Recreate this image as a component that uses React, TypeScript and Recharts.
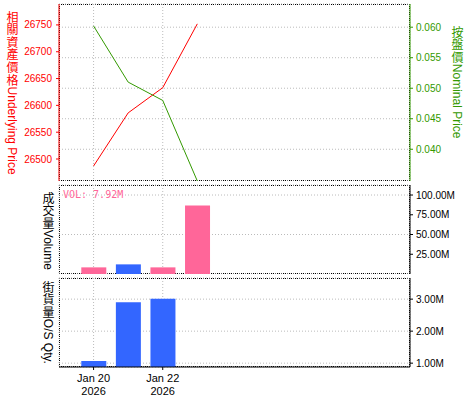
import React from 'react';
import {
  ComposedChart,
  Line,
  Bar,
  Cell,
  XAxis,
  YAxis,
  CartesianGrid,
} from 'recharts';

// trading days (January 2026)
const days = [20, 21, 22, 23];
const underlyingPrice = [26487, 26586, 26633, 26752];
const nominalPrice = [0.0602, 0.051, 0.048, 0.0348];
const volume = [8.4e6, 12.2e6, 8.4e6, 86.6e6];
const volumeUp = [false, true, false, false];
const osQty = [1.07e6, 2.9e6, 3.01e6, null];

const dateTicks = [20, 22];
const underlyingTicks = [26500, 26550, 26600, 26650, 26700, 26750];
const nominalTicks = [0.04, 0.045, 0.05, 0.055, 0.06];
const volumeTicks = [25e6, 50e6, 75e6, 100e6];
const qtyTicks = [1e6, 2e6, 3e6];

const RED = '#ff0000';
const GREEN = '#339900';
const PINK = '#ff6699';
const BLUE = '#3366ff';
const GRID = '#bbbbbb';
const FONT = '"Liberation Sans", Arial, sans-serif';
const CJK = '"Noto Sans CJK TC", sans-serif';

const rows = days.map((d, i) => ({
  day: d,
  underlying: underlyingPrice[i],
  nominal: nominalPrice[i],
  volume: volume[i],
  qty: osQty[i],
}));

const fmtM = (v: number) => `${(v / 1e6).toFixed(2)}M`;

const DateTick = ({ x, y, payload }: any) => (
  <text x={x} y={y} textAnchor="middle" fontSize={11} fontFamily={FONT} fill="#000">
    <tspan x={x} dy={10}>{`Jan ${payload.value}`}</tspan>
    <tspan x={x} dy={13}>2026</tspan>
  </text>
);

const PLOT_L = 59;
const PLOT_R = 410;
const W = 475;
const xDomain: [number, number] = [19, 29.15];

const box = (top: number, h: number): React.CSSProperties => ({
  position: 'absolute',
  left: PLOT_L,
  top,
  width: PLOT_R - PLOT_L,
  height: h,
  border: '1px dotted #000',
  boxSizing: 'border-box',
});

// vertical title: Chinese part upright, English part rotated
const VLabel = ({ left, top, color, zh, en }: any) => (
  <div
    style={{
      position: 'absolute',
      left,
      top,
      width: 14,
      writingMode: 'vertical-rl',
      fontSize: 12,
      lineHeight: '14px',
      color,
      whiteSpace: 'nowrap',
    }}
  >
    <span style={{ fontFamily: CJK, textOrientation: 'upright', letterSpacing: '0.6px' }}>{zh}</span>
    <span style={{ fontFamily: FONT }}>{en}</span>
  </div>
);

export default function App() {
  return (
    <div style={{ position: 'absolute', left: 0, top: 0, width: W, height: 400, background: '#fff' }}>
      {/* panel frames, drawn behind the charts */}
      <div style={box(4, 177)} />
      <div style={box(185, 89)} />
      <div style={box(278, 89)} />

      {/* price panel */}
      <div style={{ position: 'absolute', left: 0, top: 0 }}>
        <ComposedChart width={W} height={181} data={rows} margin={{ top: 4, right: 0, bottom: 0, left: 0 }}>
          <CartesianGrid yAxisId="right" stroke={GRID} strokeDasharray="1 2" />
          <XAxis dataKey="day" type="number" domain={xDomain} ticks={dateTicks} hide />
          <YAxis
            yAxisId="left"
            width={PLOT_L}
            domain={[26459, 26789]}
            ticks={underlyingTicks}
            allowDataOverflow
            stroke={RED}
            tickSize={3}
            tickMargin={4}
            tick={{ fill: RED, fontSize: 10, fontFamily: FONT }}
          />
          <YAxis
            yAxisId="right"
            orientation="right"
            width={W - PLOT_R}
            domain={[0.0348, 0.0638]}
            ticks={nominalTicks}
            allowDataOverflow
            stroke={GREEN}
            tickSize={3}
            tickMargin={3}
            tickFormatter={(v: number) => v.toFixed(3)}
            tick={{ fill: GREEN, fontSize: 10, fontFamily: FONT }}
          />
          <Line yAxisId="left" dataKey="underlying" stroke={RED} strokeWidth={1} dot={false} isAnimationActive={false} />
          <Line yAxisId="right" dataKey="nominal" stroke={GREEN} strokeWidth={1} dot={false} isAnimationActive={false} />
        </ComposedChart>
      </div>

      {/* volume panel */}
      <div style={{ position: 'absolute', left: 0, top: 183 }}>
        <ComposedChart width={W} height={91} data={rows} margin={{ top: 2, right: 0, bottom: 0, left: PLOT_L }}>
          <CartesianGrid stroke={GRID} strokeDasharray="1 2" />
          <XAxis dataKey="day" type="number" domain={xDomain} ticks={dateTicks} hide />
          <YAxis
            orientation="right"
            width={W - PLOT_R}
            domain={[0, 112.7e6]}
            ticks={volumeTicks}
            stroke="#000"
            tickSize={3}
            tickMargin={3}
            tickFormatter={fmtM}
            tick={{ fill: '#000', fontSize: 10, fontFamily: FONT }}
          />
          <Bar dataKey="volume" barSize={25} isAnimationActive={false}>
            {rows.map((r, i) => (
              <Cell key={r.day} fill={volumeUp[i] ? BLUE : PINK} />
            ))}
          </Bar>
        </ComposedChart>
      </div>

      {/* outstanding quantity panel */}
      <div style={{ position: 'absolute', left: 0, top: 274 }}>
        <ComposedChart width={W} height={126} data={rows} margin={{ top: 4, right: 0, bottom: 0, left: PLOT_L }}>
          <CartesianGrid stroke={GRID} strokeDasharray="1 2" />
          <XAxis
            dataKey="day"
            type="number"
            domain={xDomain}
            ticks={dateTicks}
            height={33}
            stroke="#000"
            tickSize={3}
            tickMargin={2}
            tick={<DateTick />}
          />
          <YAxis
            orientation="right"
            width={W - PLOT_R}
            domain={[0.88e6, 3.66e6]}
            ticks={qtyTicks}
            allowDataOverflow
            stroke="#000"
            tickSize={3}
            tickMargin={3}
            tickFormatter={fmtM}
            tick={{ fill: '#000', fontSize: 10, fontFamily: FONT }}
          />
          <Bar dataKey="qty" barSize={25} fill={BLUE} isAnimationActive={false} />
        </ComposedChart>
      </div>

      {/* axis titles and annotations */}
      <VLabel left={5} top={11} color={RED} zh="相關資產價格" en="Underlying Price" />
      <VLabel left={450} top={26} color={GREEN} zh="按盤價" en="Nominal Price" />
      <VLabel left={41} top={192} color="#000" zh="成交量" en="Volume" />
      <VLabel left={41} top={281} color="#000" zh="街貨量" en="O/S Qty." />
      <div
        style={{
          position: 'absolute',
          left: 63,
          top: 189,
          fontFamily: '"DejaVu Sans Mono", monospace',
          fontSize: 10,
          color: PINK,
        }}
      >
        VOL: 7.92M
      </div>
    </div>
  );
}
